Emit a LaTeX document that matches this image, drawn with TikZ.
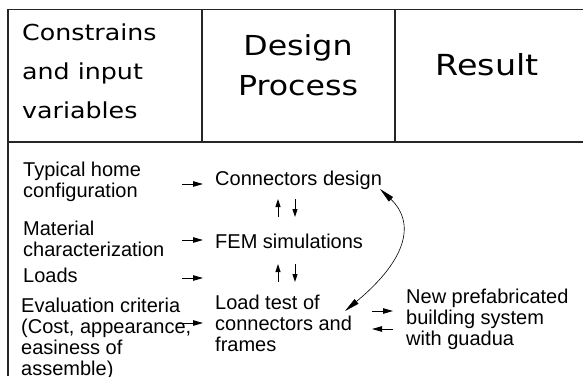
\documentclass[tikz,border=0pt]{standalone}
\usepackage{fontspec}
\setmainfont{Liberation Sans}
\newfontfamily\hdrfont[FakeStretch=1.15]{DejaVu Sans}
\usetikzlibrary{arrows.meta}
\begin{document}
\begin{tikzpicture}[x=1pt,y=-1pt,
  frameline/.style={line width=1.4pt, draw=black!85},
  hdrA/.style={font=\hdrfont\fontsize{22}{39}\selectfont, inner sep=0, align=left, anchor=base west},
  hdrB/.style={font=\hdrfont\fontsize{27.5}{40}\selectfont, inner sep=0, align=center, anchor=base},
  hdrC/.style={font=\hdrfont\fontsize{29}{40}\selectfont, inner sep=0, anchor=base},
  body/.style={font=\fontsize{20}{21.3}\selectfont, inner sep=0, align=left, anchor=base west},
  inarrow/.style={-{Triangle[length=10pt,width=5.5pt]}, line width=0.9pt},
  vtarrow/.style={-{Triangle[length=8pt,width=5pt]}, line width=0.9pt},
  loop/.style={{Triangle[length=15pt,width=6pt]}-{Triangle[length=15pt,width=6pt]}, line width=0.6pt}
]
\useasboundingbox (0,0) rectangle (583,376);
% frame
\coordinate (ftl) at (8,9.5);
\coordinate (ftr) at (583,9.5);
\coordinate (fbl) at (8,376);
\coordinate (sepl) at (8,142);
\coordinate (sepr) at (583,142);
\coordinate (d1t) at (202,9.5);
\coordinate (d1b) at (202,142);
\coordinate (d2t) at (395,9.5);
\coordinate (d2b) at (395,142);
\draw[frameline] (ftr) -- (ftl) -- (fbl);
\draw[frameline] (sepl) -- (sepr);
\draw[frameline] (d1t) -- (d1b);
\draw[frameline] (d2t) -- (d2b);
% headers (anchored at the baseline of the last line)
\node[hdrA] (h1) at (22,118) {Constrains\\and input\\variables};
\node[hdrB] (h2) at (298,95) {Design\\Process};
\node[hdrC] (h3) at (487,75) {Result};
% body texts (anchored at the baseline of the last line)
\node[body] (typ) at (23,197.8) {Typical home\\configuration};
\node[body] (mat) at (23,256.3) {Material\\characterization};
\node[body] (loads) at (23,282) {Loads};
\node[body] (eval) at (21,375.9) {Evaluation criteria\\(Cost, appearance,\\easiness of\\assemble)};
\node[body] (cd) at (215,185.5) {Connectors design};
\node[body] (fem) at (215,248.5) {FEM simulations};
\node[body] (lt) at (215,351.6) {Load test of\\connectors and\\frames};
\node[body] (np) at (406,345.6) {New prefabricated\\building system\\with guadua};
% input arrows
\coordinate (a1s) at (182,184); \coordinate (a1e) at (203,184);
\coordinate (a2s) at (182,240); \coordinate (a2e) at (203,240);
\coordinate (a3s) at (182,278); \coordinate (a3e) at (203,278);
\coordinate (a4s) at (178,323); \coordinate (a4e) at (203,323);
\draw[inarrow] (a1s) -- (a1e);
\draw[inarrow] (a2s) -- (a2e);
\draw[inarrow] (a3s) -- (a3e);
\draw[inarrow] (a4s) -- (a4e);
% vertical arrows
\coordinate (u1s) at (278,217); \coordinate (u1e) at (278,199);
\coordinate (d1s) at (295,199); \coordinate (d1e) at (295,217);
\coordinate (u2s) at (278,282); \coordinate (u2e) at (278,264);
\coordinate (d2s) at (295,264); \coordinate (d2e) at (295,282);
\draw[vtarrow] (u1s) -- (u1e);
\draw[vtarrow] (d1s) -- (d1e);
\draw[vtarrow] (u2s) -- (u2e);
\draw[vtarrow] (d2s) -- (d2e);
% loop arrow
\coordinate (c1) at (345,311);
\coordinate (c2) at (380,189);
\draw[loop] (c1) .. controls (410,257) and (414,221) .. (c2);
% result arrows
\coordinate (r1s) at (372,311); \coordinate (r1e) at (393,311);
\coordinate (r2s) at (393,329); \coordinate (r2e) at (372,329);
\draw[inarrow] (r1s) -- (r1e);
\draw[inarrow] (r2s) -- (r2e);
\end{tikzpicture}
\end{document}
